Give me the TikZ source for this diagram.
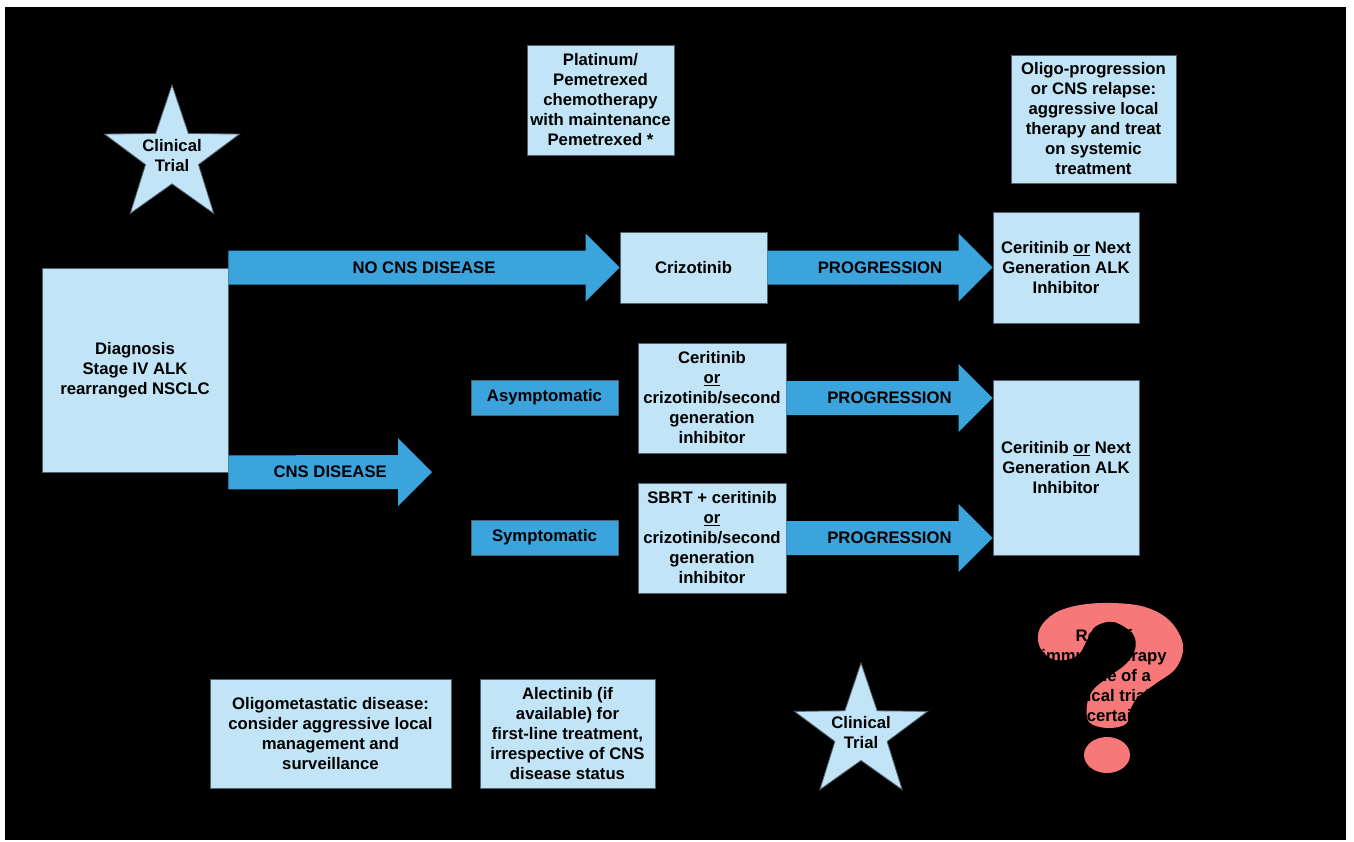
\documentclass[tikz,border=0pt]{standalone}
\usepackage{fontspec}
\setmainfont{Liberation Sans}
\usepackage{tikz}
\usetikzlibrary{calc,shapes.geometric}
\definecolor{boxblue}{RGB}{193,228,246}
\definecolor{arrblue}{RGB}{59,164,221}
\definecolor{qred}{RGB}{246,120,120}
\definecolor{edgegray}{RGB}{80,96,108}
% block arrow from #1 to #2 (same height), name #3, text #4
\newcommand{\blockarrow}[4]{%
 \fill[arrblue] ($(#1)+(0,-17)$) -- ($(#2)+(-34,-17)$) -- ($(#2)+(-34,-34)$) -- (#2)
   -- ($(#2)+(-34,34)$) -- ($(#2)+(-34,17)$) -- ($(#1)+(0,17)$) -- cycle;
 \node (#3) at ($(#1)!.5!(#2)$) {#4};
}

\begin{document}
\begin{tikzpicture} [x=1pt, y=-1pt,
  every node/.style={font=\fontsize{16.7}{20}\selectfont\bfseries, align=center, inner sep=2pt},
  bx/.style={draw=edgegray, line width=.8pt, fill=boxblue},
  darkbx/.style={draw=edgegray, line width=.8pt, fill=arrblue, minimum width=147pt, minimum height=35pt},
  trialstar/.style={star, star points=5, star point ratio=2.55, inner sep=0pt, draw=edgegray, line width=.8pt, fill=boxblue}]
\useasboundingbox (0,0) rectangle (1354,841);
\fill[white] (0,0) rectangle (1354,841);
\fill[black] (5,7) rectangle (1346,840);

% boxes
\node[bx, minimum width=186pt, minimum height=204pt] (diag) at (135,370) {Diagnosis\\Stage IV ALK\\rearranged NSCLC};
\node[bx, minimum width=147pt, minimum height=110pt] (plat) at (600.5,100) {Platinum/\\Pemetrexed\\chemotherapy\\with maintenance\\Pemetrexed *};
\node[bx, minimum width=165pt, minimum height=128pt] (oligo) at (1093.5,119) {Oligo-progression\\or CNS relapse:\\aggressive local\\therapy and treat\\on systemic\\treatment};
\node[bx, minimum width=147pt, minimum height=71pt] (criz) at (693.5,267.5) {Crizotinib};
\node[bx, minimum width=146pt, minimum height=111pt] (cerA) at (1066,267.5) {Ceritinib \underline{or} Next\\Generation ALK\\Inhibitor};
\node[darkbx] (asym) at (544.5,397.5) {Asymptomatic};
\node[darkbx] (sym) at (544.5,537.5) {Symptomatic};
\node[bx, minimum width=148pt, minimum height=110pt] (ceri) at (712,398) {Ceritinib\\\underline{or}\\crizotinib/second\\generation\\inhibitor};
\node[bx, minimum width=148pt, minimum height=110pt] (sbrt) at (712,538) {SBRT + ceritinib\\\underline{or}\\crizotinib/second\\generation\\inhibitor};
\node[bx, minimum width=146pt, minimum height=175pt] (cerB) at (1066,467.5) {Ceritinib \underline{or} Next\\Generation ALK\\Inhibitor};
\node[bx, minimum width=241pt, minimum height=109pt] (olmet) at (330.5,733.5) {Oligometastatic disease:\\consider aggressive local\\management and\\surveillance};
\node[bx, minimum width=175pt, minimum height=109pt] (alec) at (567.5,733.5) {Alectinib (if\\available) for\\first-line treatment,\\irrespective of CNS\\disease status};

% stars
\node[trialstar, minimum size=142pt] (starA) at (172,156) {};
\node at (starA) {Clinical\\Trial};
\node[trialstar, minimum size=140pt] (starB) at (861,733) {};
\node at (starB) {Clinical\\Trial};

% arrows
\coordinate (nocnsA) at (diag.east |- criz.west);
\blockarrow{nocnsA}{criz.west}{nocns}{NO CNS DISEASE}
\blockarrow{criz.east}{cerA.west}{progA}{PROGRESSION}
\coordinate (cnsB) at (432,472);
\blockarrow{diag.south east}{cnsB}{cns}{CNS DISEASE}
\coordinate (progBend) at (cerB.west |- ceri.east);
\blockarrow{ceri.east}{progBend}{progB}{PROGRESSION}
\coordinate (progCend) at (cerB.west |- sbrt.east);
\blockarrow{sbrt.east}{progCend}{progC}{PROGRESSION}

% question mark
\fill[qred] plot[smooth cycle, tension=0.6] coordinates {(1050,658) (1039,645) (1040,628) (1055,613)
  (1080,605) (1112,603) (1145,607) (1170,621) (1183,645) (1176,668) (1155,684) (1138,697)
  (1130,710) (1126,724) (1107,728) (1089,722) (1087,705) (1093,690) (1110,676) (1126,664)
  (1135,650) (1133,634) (1114,622) (1096,626) (1088,638) (1079,654) (1065,660)};
\fill[qred] (1107,755) ellipse [x radius=23, y radius=18];
\node[text=black] (qtext) at (1104,676) {Role of\\immunotherapy\\outside of a\\clinical trial\\uncertain};
\end{tikzpicture}
\end{document}
